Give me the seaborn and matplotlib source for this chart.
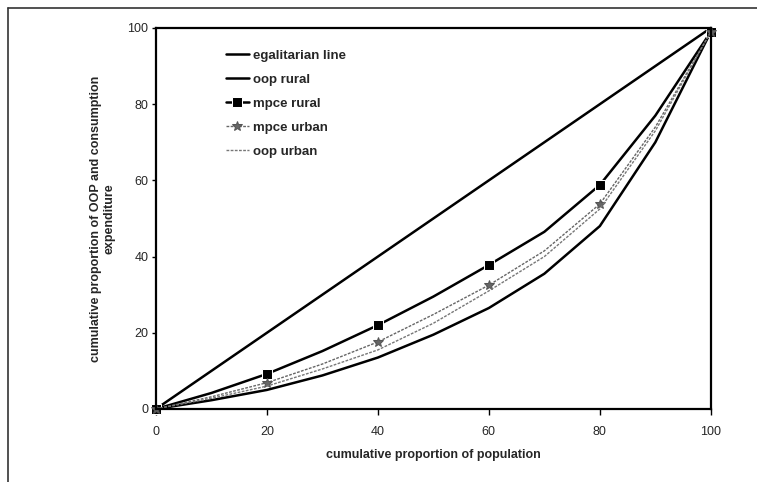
import numpy as np
import pandas as pd
import matplotlib
matplotlib.use('Agg')
import matplotlib.pyplot as plt
from matplotlib.lines import Line2D
import seaborn as sns

# values (cumulative %)
population = [0, 10, 20, 30, 40, 50, 60, 70, 80, 90, 100]
egalitarian = [0, 10, 20, 30, 40, 50, 60, 70, 80, 90, 100]
oop_rural = [0, 2.3, 5.0, 8.8, 13.5, 19.5, 26.5, 35.5, 48.0, 70.0, 99.0]
mpce_rural = [0, 4.2, 9.2, 15.2, 22.0, 29.5, 37.8, 46.5, 58.8, 77.0, 99.0]
mpce_urban = [0, 3.2, 6.9, 11.8, 17.6, 24.8, 32.5, 41.5, 53.8, 74.0, 99.0]
oop_urban = [0, 2.8, 6.0, 10.5, 15.5, 22.5, 31.0, 40.0, 52.5, 73.0, 99.0]

sns.set_style('white')
plt.rcParams['font.family'] = ['Liberation Sans', 'DejaVu Sans']

fig = plt.figure(figsize=(7.57, 4.82), dpi=100)
ax = fig.add_axes([0.206, 0.1515, 0.733, 0.7905])

df = pd.DataFrame({'x': population, 'egal': egalitarian, 'oopr': oop_rural,
                   'mpcer': mpce_rural, 'mpceu': mpce_urban, 'oopu': oop_urban})

sns.lineplot(data=df, x='x', y='egal', ax=ax, color='black', lw=1.8,
             label='egalitarian line', clip_on=False)
sns.lineplot(data=df, x='x', y='oopr', ax=ax, color='black', lw=1.8,
             label='oop rural', clip_on=False)
sns.lineplot(data=df, x='x', y='mpcer', ax=ax, color='black', lw=1.8,
             marker='s', markersize=7, markevery=2, label='mpce rural', clip_on=False)
sns.lineplot(data=df, x='x', y='mpceu', ax=ax, color='#666666', lw=1.0,
             linestyle=(0, (2, 1)), marker='*', markersize=7, markevery=2,
             markeredgecolor='#555555', label='mpce urban', clip_on=False)
sns.lineplot(data=df, x='x', y='oopu', ax=ax, color='#777777', lw=1.0,
             linestyle=(0, (2, 1)), label='oop urban', clip_on=False)

ax.set_xlim(0, 100)
ax.set_ylim(0, 100)
ax.set_xticks([0, 20, 40, 60, 80, 100])
ax.set_yticks([0, 20, 40, 60, 80, 100])
ax.tick_params(axis='x', direction='out', length=4, width=1, color='black',
               labelsize=9, pad=8, bottom=True)
ax.tick_params(axis='y', direction='out', length=3, width=1, color='black',
               labelsize=9, pad=2.5, left=True)
for s in ax.spines.values():
    s.set_color('black')
    s.set_linewidth(1.6)

ax.set_xlabel('cumulative proportion of population', fontsize=9, fontweight='bold', labelpad=8)
ax.set_ylabel('cumulative proportion of OOP and consumption\nexpenditure', fontsize=9,
              fontweight='bold')
ax.yaxis.set_label_coords(-0.073, 0.5)

leg = ax.legend(loc='upper left', bbox_to_anchor=(0.104, 0.975), frameon=False,
                prop={'weight': 'bold', 'size': 9.5}, handlelength=1.8,
                handletextpad=0.3, labelspacing=0.9)

# scan frame lines
fig.add_artist(Line2D([0.011, 1.0], [0.983, 0.983], color='#333333', lw=1.2))
fig.add_artist(Line2D([0.011, 0.011], [0.0, 0.983], color='#333333', lw=1.2))

fig.savefig('out.png', dpi=100)
